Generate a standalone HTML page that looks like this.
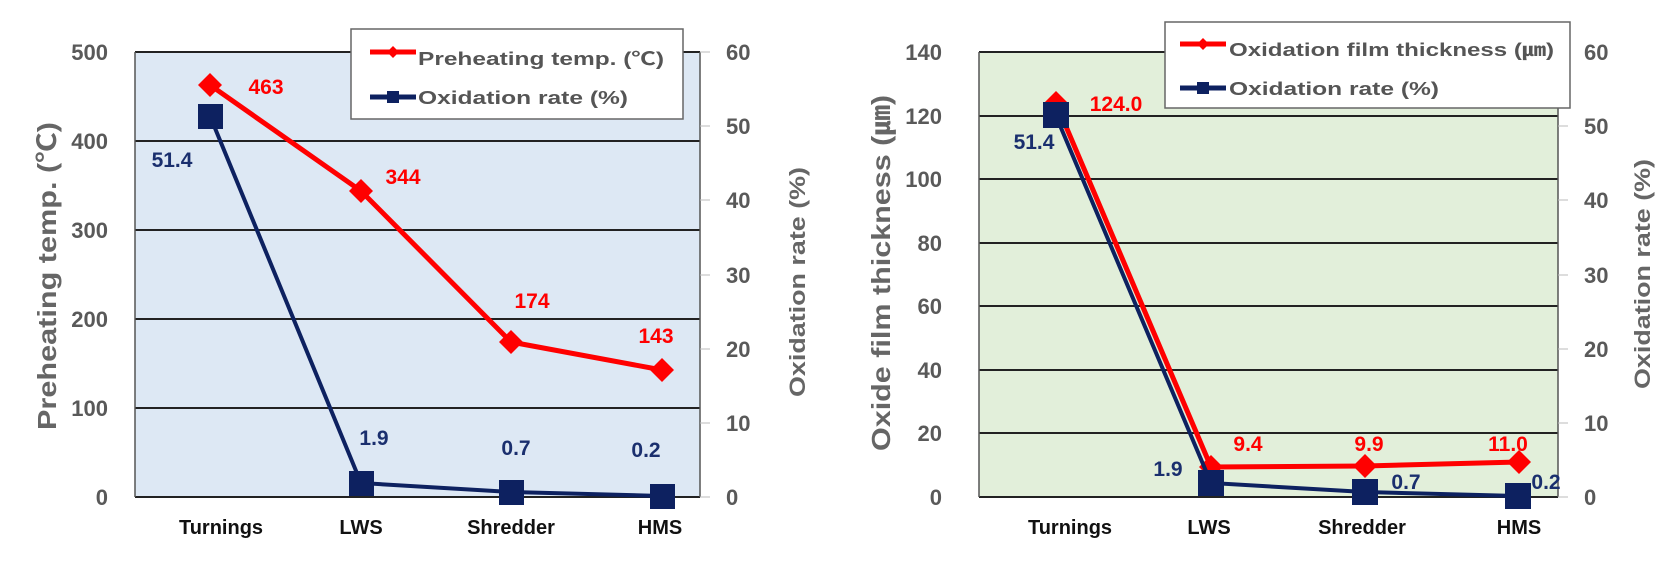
<!DOCTYPE html>
<html><head><meta charset="utf-8"><style>
html,body{margin:0;padding:0;background:#fff;}
svg{display:block;font-family:"Liberation Sans","Noto Sans CJK KR",sans-serif;font-weight:bold;}
</style></head><body>
<svg width="1677" height="564" viewBox="0 0 1677 564" xmlns="http://www.w3.org/2000/svg">
<!-- LEFT CHART -->
<rect x="135" y="52" width="565" height="445" fill="#dde8f4"/>
<g stroke="#222" stroke-width="2">
<line x1="135" y1="52" x2="700" y2="52"/>
<line x1="135" y1="141" x2="700" y2="141"/>
<line x1="135" y1="230" x2="700" y2="230"/>
<line x1="135" y1="319" x2="700" y2="319"/>
<line x1="135" y1="408" x2="700" y2="408"/>
<line x1="135" y1="497" x2="700" y2="497"/>
</g>
<g stroke="#555" stroke-width="1.5">
<line x1="135" y1="52" x2="135" y2="497"/>
<line x1="700" y1="52" x2="700" y2="497"/>
</g>
<g stroke="#bbb" stroke-width="1">
<line x1="700" y1="52" x2="710" y2="52"/><line x1="700" y1="126" x2="710" y2="126"/><line x1="700" y1="200" x2="710" y2="200"/><line x1="700" y1="275" x2="710" y2="275"/><line x1="700" y1="349" x2="710" y2="349"/><line x1="700" y1="423" x2="710" y2="423"/><line x1="700" y1="497" x2="710" y2="497"/>
</g>
<g fill="#595959" font-size="22" text-anchor="end">
<text x="108" y="60">500</text><text x="108" y="149">400</text><text x="108" y="238">300</text><text x="108" y="327">200</text><text x="108" y="416">100</text><text x="108" y="505">0</text>
</g>
<g fill="#595959" font-size="22" text-anchor="start">
<text x="726" y="60">60</text><text x="726" y="134">50</text><text x="726" y="208">40</text><text x="726" y="283">30</text><text x="726" y="357">20</text><text x="726" y="431">10</text><text x="726" y="505">0</text>
</g>
<text transform="translate(56,276) rotate(-90)" fill="#666" font-size="26" text-anchor="middle" textLength="308" lengthAdjust="spacingAndGlyphs">Preheating temp. (℃)</text>
<text transform="translate(805,282) rotate(-90)" fill="#666" font-size="22" text-anchor="middle" textLength="230" lengthAdjust="spacingAndGlyphs">Oxidation rate (%)</text>
<polyline points="210,85 361,191 511,342 662,370" fill="none" stroke="#ff0000" stroke-width="5"/>
<g fill="#ff0000">
<polygon points="210,73 222,85 210,97 198,85"/><polygon points="361,179 373,191 361,203 349,191"/><polygon points="511,330 523,342 511,354 499,342"/><polygon points="662,358 674,370 662,382 650,370"/>
</g>
<polyline points="210,116 361,483 511,492 662,496" fill="none" stroke="#0d2160" stroke-width="4"/>
<g fill="#0d2160">
<rect x="198" y="104" width="25" height="25"/><rect x="349" y="471" width="25" height="25"/><rect x="499" y="480" width="25" height="25"/><rect x="650" y="484" width="25" height="25"/>
</g>
<g fill="#ff0000" font-size="21" text-anchor="middle">
<text x="266" y="94">463</text><text x="403" y="184">344</text><text x="532" y="308">174</text><text x="656" y="343">143</text>
</g>
<g fill="#1a2f6e" font-size="21" text-anchor="middle">
<text x="172" y="167">51.4</text><text x="374" y="445">1.9</text><text x="516" y="455">0.7</text><text x="646" y="457">0.2</text>
</g>
<g fill="#111" font-size="20" text-anchor="middle">
<text x="221" y="534">Turnings</text><text x="361" y="534">LWS</text><text x="511" y="534">Shredder</text><text x="660" y="534">HMS</text>
</g>
<rect x="351" y="29" width="332" height="90" fill="#fff" stroke="#666" stroke-width="1.5"/>
<line x1="370" y1="52" x2="416" y2="52" stroke="#ff0000" stroke-width="5"/>
<polygon points="393,46 399,52 393,58 387,52" fill="#ff0000"/>
<line x1="370" y1="97" x2="416" y2="97" stroke="#0d2160" stroke-width="5"/>
<rect x="387" y="91" width="12" height="12" fill="#0d2160"/>
<text x="418" y="65" fill="#555" font-size="18" textLength="246" lengthAdjust="spacingAndGlyphs">Preheating temp. (℃)</text>
<text x="418" y="104" fill="#555" font-size="18" textLength="210" lengthAdjust="spacingAndGlyphs">Oxidation rate (%)</text>

<!-- RIGHT CHART -->
<rect x="979" y="52" width="579" height="445" fill="#e2efda"/>
<g stroke="#222" stroke-width="2">
<line x1="979" y1="52" x2="1558" y2="52"/>
<line x1="979" y1="116" x2="1558" y2="116"/>
<line x1="979" y1="179" x2="1558" y2="179"/>
<line x1="979" y1="243" x2="1558" y2="243"/>
<line x1="979" y1="306" x2="1558" y2="306"/>
<line x1="979" y1="370" x2="1558" y2="370"/>
<line x1="979" y1="433" x2="1558" y2="433"/>
<line x1="979" y1="497" x2="1558" y2="497"/>
</g>
<g stroke="#555" stroke-width="1.5">
<line x1="979" y1="52" x2="979" y2="497"/>
<line x1="1558" y1="52" x2="1558" y2="497"/>
</g>
<g stroke="#bbb" stroke-width="1">
<line x1="1558" y1="52" x2="1568" y2="52"/><line x1="1558" y1="126" x2="1568" y2="126"/><line x1="1558" y1="200" x2="1568" y2="200"/><line x1="1558" y1="275" x2="1568" y2="275"/><line x1="1558" y1="349" x2="1568" y2="349"/><line x1="1558" y1="423" x2="1568" y2="423"/><line x1="1558" y1="497" x2="1568" y2="497"/>
</g>
<g fill="#595959" font-size="22" text-anchor="end">
<text x="942" y="60">140</text><text x="942" y="124">120</text><text x="942" y="187">100</text><text x="942" y="251">80</text><text x="942" y="314">60</text><text x="942" y="378">40</text><text x="942" y="441">20</text><text x="942" y="505">0</text>
</g>
<g fill="#595959" font-size="22" text-anchor="start">
<text x="1584" y="60">60</text><text x="1584" y="134">50</text><text x="1584" y="208">40</text><text x="1584" y="283">30</text><text x="1584" y="357">20</text><text x="1584" y="431">10</text><text x="1584" y="505">0</text>
</g>
<text transform="translate(890,273) rotate(-90)" fill="#666" font-size="26" text-anchor="middle" textLength="356" lengthAdjust="spacingAndGlyphs">Oxide film thickness (㎛)</text>
<text transform="translate(1650,274) rotate(-90)" fill="#666" font-size="22" text-anchor="middle" textLength="230" lengthAdjust="spacingAndGlyphs">Oxidation rate (%)</text>
<polyline points="1056,103 1211,467 1365,466 1519,462" fill="none" stroke="#ff0000" stroke-width="5"/>
<g fill="#ff0000">
<polygon points="1056,91 1068,103 1056,115 1044,103"/><polygon points="1211,455 1223,467 1211,479 1199,467"/><polygon points="1365,454 1377,466 1365,478 1353,466"/><polygon points="1519,450 1531,462 1519,474 1507,462"/>
</g>
<polyline points="1056,116 1211,483 1365,492 1518,496" fill="none" stroke="#0d2160" stroke-width="4"/>
<g fill="#0d2160">
<rect x="1043" y="102" width="26" height="26"/><rect x="1198" y="470" width="26" height="26"/><rect x="1352" y="479" width="26" height="26"/><rect x="1505" y="483" width="26" height="26"/>
</g>
<g fill="#ff0000" font-size="21" text-anchor="middle">
<text x="1116" y="111">124.0</text><text x="1248" y="451">9.4</text><text x="1369" y="451">9.9</text><text x="1508" y="451">11.0</text>
</g>
<g fill="#1a2f6e" font-size="21" text-anchor="middle">
<text x="1034" y="149">51.4</text><text x="1168" y="476">1.9</text><text x="1406" y="489">0.7</text><text x="1546" y="489">0.2</text>
</g>
<g fill="#111" font-size="20" text-anchor="middle">
<text x="1070" y="534">Turnings</text><text x="1209" y="534">LWS</text><text x="1362" y="534">Shredder</text><text x="1519" y="534">HMS</text>
</g>
<rect x="1165" y="22" width="405" height="86" fill="#fff" stroke="#666" stroke-width="1.5"/>
<line x1="1180" y1="44" x2="1226" y2="44" stroke="#ff0000" stroke-width="5"/>
<polygon points="1203,38 1209,44 1203,50 1197,44" fill="#ff0000"/>
<line x1="1180" y1="88" x2="1226" y2="88" stroke="#0d2160" stroke-width="5"/>
<rect x="1197" y="82" width="12" height="12" fill="#0d2160"/>
<text x="1229" y="56" fill="#555" font-size="18" textLength="325" lengthAdjust="spacingAndGlyphs">Oxidation film thickness (㎛)</text>
<text x="1229" y="95" fill="#555" font-size="18" textLength="210" lengthAdjust="spacingAndGlyphs">Oxidation rate (%)</text>
</svg>
</body></html>
